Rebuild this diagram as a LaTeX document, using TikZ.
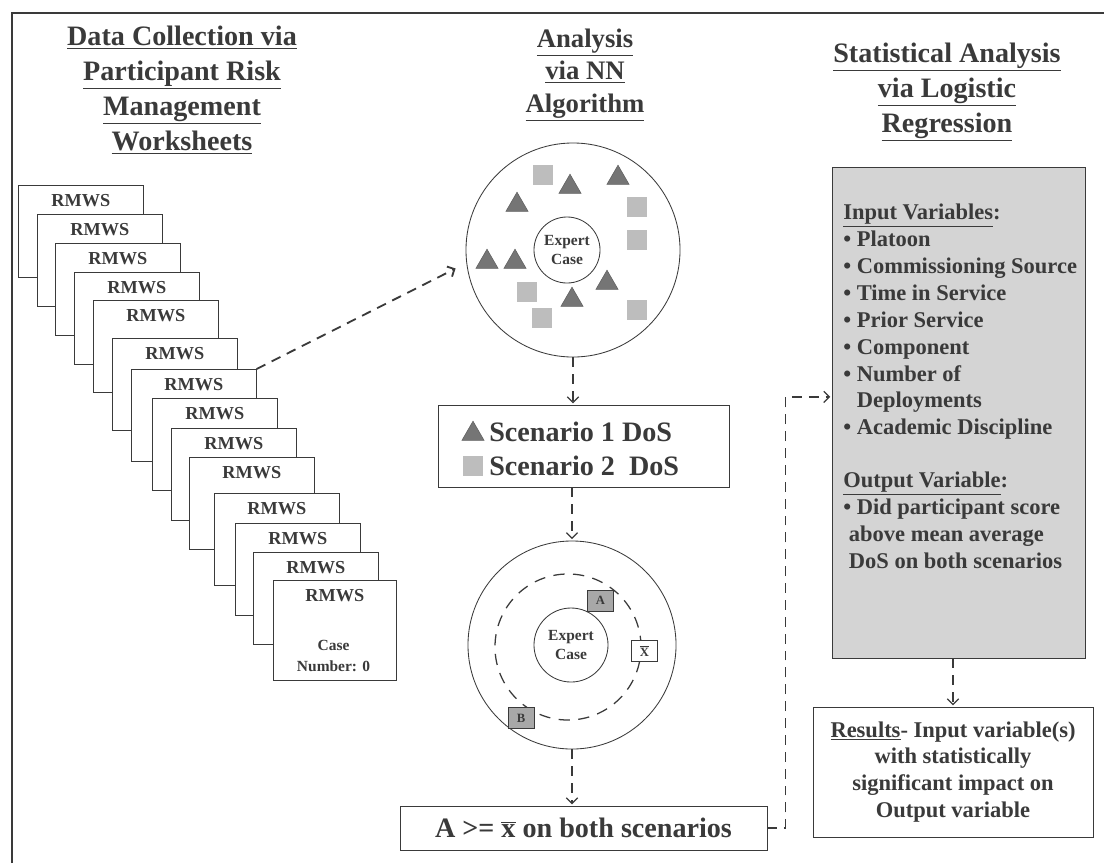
\documentclass[tikz,border=0pt]{standalone}
\usepackage{fontspec}
\setmainfont{Liberation Serif}
\usepackage{tikz}
\usetikzlibrary{arrows.meta, shapes.geometric}
\definecolor{ink}{HTML}{3A3A3A}
\definecolor{panel}{HTML}{D4D4D4}
\definecolor{dosone}{HTML}{757575}
\definecolor{dostwo}{HTML}{BDBDBD}
\definecolor{tagfill}{HTML}{A8A8A8}
\newcommand{\xbar}[1]{$\overline{\hbox{#1}}$}

\begin{document}
\begin{tikzpicture}[x=0.025cm, y=-0.025cm,
  every node/.style={text=ink},
  heading/.style={align=center, font=\fontsize{20}{24.8}\selectfont\bfseries},
  card/.style={draw=ink, fill=white, anchor=north west, inner sep=0pt,
    minimum width=3.125cm, minimum height=2.3cm},
  cardtext/.style={font=\fontsize{13}{15}\selectfont\bfseries, anchor=north, yshift=-0.1cm},
  ring/.style={circle, draw=ink, semithick, inner sep=0pt},
  expert/.style={ring, align=center, font=\fontsize{11}{14}\selectfont\bfseries},
  dos1/.style={regular polygon, regular polygon sides=3, minimum size=0.64cm,
    inner sep=0pt, fill=dosone, draw=ink!80},
  dos2/.style={rectangle, minimum size=0.5cm, inner sep=0pt, fill=dostwo},
  box/.style={draw=ink, fill=white, inner sep=0pt},
  bigtext/.style={font=\fontsize{20}{24}\selectfont\bfseries, inner sep=0pt},
  midtext/.style={font=\fontsize{16}{19.1}\selectfont\bfseries},
  tag/.style={draw=ink, minimum width=0.65cm, minimum height=0.52cm, inner sep=0pt,
    font=\fontsize{9}{10}\selectfont\bfseries},
  flow/.style={-{Straight Barb[length=4pt, width=8pt]}, draw=ink, line width=0.9pt,
    dash pattern=on 7pt off 5pt, shorten >=1pt}
]
\useasboundingbox (0,0) rectangle (1104,863);
\draw[ink, line width=1.5pt] (12,863) -- (12,13) -- (1104,13);

% headings
\node[heading] (hdata) at (182,90) {\underline{Data Collection via}\\\underline{Participant Risk}\\\underline{Management}\\\underline{Worksheets}};
\node[heading, font=\fontsize{19}{23}\selectfont\bfseries] (hnn) at (585,75) {\underline{Analysis}\\\underline{via NN}\\\underline{Algorithm}};
\node[heading] (hstat) at (947,92) {\underline{Statistical Analysis}\\\underline{via Logistic}\\\underline{Regression}};

% worksheet stack
\foreach \x/\y [count=\i] in {18/185, 37/214, 55/243, 74/272, 93/300, 112/338, 131/369,
    152/398, 171/428, 189/457, 214/493, 235/523, 253/552}
  \node[card, label={[cardtext]north:RMWS}] (card\i) at (\x,\y) {};
\node[card, minimum width=3.075cm, minimum height=2.5cm, label={[cardtext]north:RMWS}] (card14) at (273,580) {};
\node[align=center, font=\fontsize{11}{15}\selectfont\bfseries] (casenum) at (333.5,656) {Case\\Number: 0};

% nearest neighbour cloud
\node[ring, minimum size=5.35cm] (outer1) at (573,250) {};
\node[expert, minimum size=1.65cm] (expert1) at (567,250) {Expert\\Case};
\foreach \p [count=\i] in {(517,205), (570,187), (618,178), (487,262), (515,262), (607,283), (572,300)}
  \node[dos1] (tri\i) at \p {};
\foreach \p [count=\i] in {(543,175), (637,207), (637,240), (527,292), (542,318), (637,310)}
  \node[dos2] (sq\i) at \p {};

% legend
\node[box, minimum width=7.275cm, minimum height=2.05cm] (legend) at (583.5,446) {};
\node[dos1] (legtri) at (473,434) {};
\node[dos2] (legsq) at (473,466) {};
\node[bigtext, anchor=west] (leg1) at (489,432) {Scenario 1 DoS};
\node[bigtext, anchor=west] (leg2) at (489,466) {Scenario 2\ \ DoS};

% mean comparison
\node[ring, minimum size=5.2cm] (outer2) at (572,645) {};
\node[ring, line width=0.9pt, dash pattern=on 8pt off 6pt, minimum size=3.65cm] (mean2) at (568,647) {};
\node[expert, minimum size=1.85cm] (expert2) at (571,645) {Expert\\Case};
\node[tag, fill=tagfill] (tagA) at (600.5,600.5) {A};
\node[tag, fill=white] (tagX) at (644.5,651) {\xbar{X}};
\node[tag, fill=tagfill] (tagB) at (521,718) {B};

\node[box, bigtext, minimum width=9.175cm, minimum height=1.1cm] (crit) at (583.5,828) {A >= \xbar{x} on both scenarios};

% logistic regression
\node[draw=ink, fill=panel, minimum width=6.325cm, minimum height=12.275cm] (inputs) at (958.5,412.5) {};
\node[midtext, align=left, anchor=north west, inner sep=0pt] (invars) at (843,204) {\underline{Input Variables}:\\
\textbullet\ Platoon\\
\textbullet\ Commissioning Source\\
\textbullet\ Time in Service\\
\textbullet\ Prior Service\\
\textbullet\ Component\\
\textbullet\ Number of\\
\phantom{\textbullet\ }Deployments\\
\textbullet\ Academic Discipline\\[0.65cm]
\underline{Output Variable}:\\
\textbullet\ Did participant score\\
\ above mean average\\
\ DoS on both scenarios};
\node[box, midtext, align=center, minimum width=7cm, minimum height=3.25cm] (results) at (953,772) {\underline{Results}- Input variable(s)\\with statistically\\significant impact on\\Output variable};

% connectors
\draw[flow, line width=1.3pt, shorten >=0.3cm] (card7.north east) -- (outer1.187);
\draw[flow] (outer1.south) -- (outer1.south |- legend.north);
\draw[flow] (legend.south -| outer2.north) -- (outer2.north);
\draw[flow] (outer2.south) -- (outer2.south |- crit.north);
\draw[flow] (crit.east) -- ++(18,0) |- (inputs.173);
\draw[flow] (inputs.south -| results.north) -- (results.north);
\end{tikzpicture}
\end{document}
